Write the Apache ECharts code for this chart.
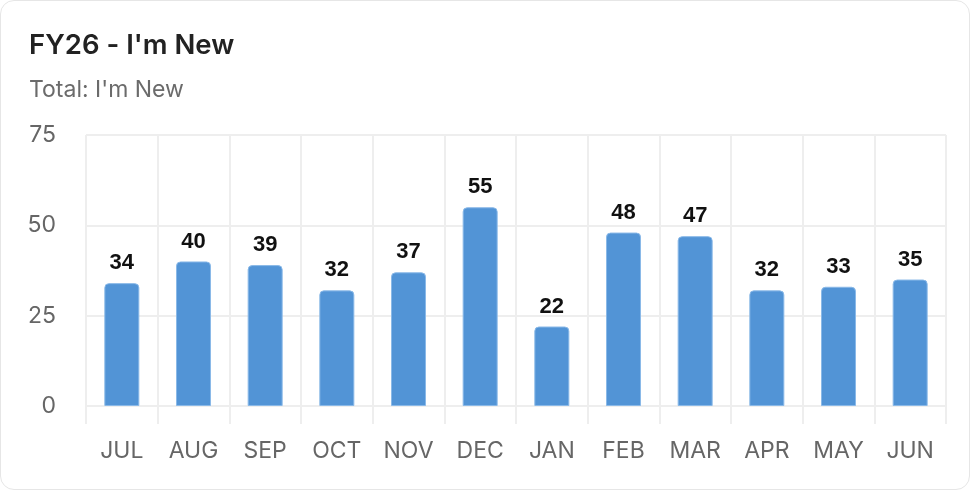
<!DOCTYPE html>
<html>
<head>
<meta charset="utf-8">
<script src="https://cdn.jsdelivr.net/npm/echarts@6/dist/echarts.min.js"></script>
<style>
html,body{margin:0;padding:0;background:#fff;}
#card{position:absolute;left:0;top:0;width:968px;height:488px;border:1px solid #e6e6e6;border-radius:14px;background:#fff;overflow:hidden;}
#chart{width:968px;height:488px;}
</style>
</head>
<body>
<div id="card"><div id="chart"></div></div>
<script>
const titleText = "FY26 - I'm New";
const subtitleText = "Total: I'm New";
const months = ["JUL","AUG","SEP","OCT","NOV","DEC","JAN","FEB","MAR","APR","MAY","JUN"];
const values = [34,40,39,32,37,55,22,48,47,32,33,35];
const yTicks = [0,25,50,75];

const chart = echarts.init(document.getElementById('chart'));
chart.setOption({
  animation:false,
  title:{
    text:titleText, subtext:subtitleText, left:28, top:31, itemGap:19, padding:0,
    textStyle:{fontFamily:'Inter, sans-serif', fontSize:27.5, fontWeight:600, color:'#222'},
    subtextStyle:{fontFamily:'Inter, sans-serif', fontSize:23, color:'#6b6b6b'}
  },
  grid:{left:85, right:23, top:134, bottom:83},
  xAxis:{
    type:'category', data:months,
    axisLine:{show:true, lineStyle:{color:'#eeeeee', width:2}},
    axisTick:{show:true, length:18, lineStyle:{color:'#eeeeee', width:2}},
    splitLine:{show:true, lineStyle:{color:'#eeeeee', width:2}},
    axisLabel:{margin:34, fontFamily:'Inter, sans-serif', fontSize:23, color:'#666'}
  },
  yAxis:{
    type:'value', min:yTicks[0], max:yTicks[yTicks.length-1], interval:25,
    axisLine:{show:false}, axisTick:{show:false},
    splitLine:{show:true, lineStyle:{color:'#eeeeee', width:2}},
    axisLabel:{margin:30, fontFamily:'Inter, sans-serif', fontSize:23, color:'#666'}
  },
  series:[{
    type:'bar', data:values, barWidth:35,
    itemStyle:{color:'#5294d6', borderColor:'#8ab9e8', borderWidth:1, borderRadius:[4,4,0,0]},
    label:{show:true, position:'top', distance:9, fontFamily:'Liberation Sans, Arial, sans-serif', fontSize:22, fontWeight:'bold', color:'#111'}
  }]
});
</script>
</body>
</html>
